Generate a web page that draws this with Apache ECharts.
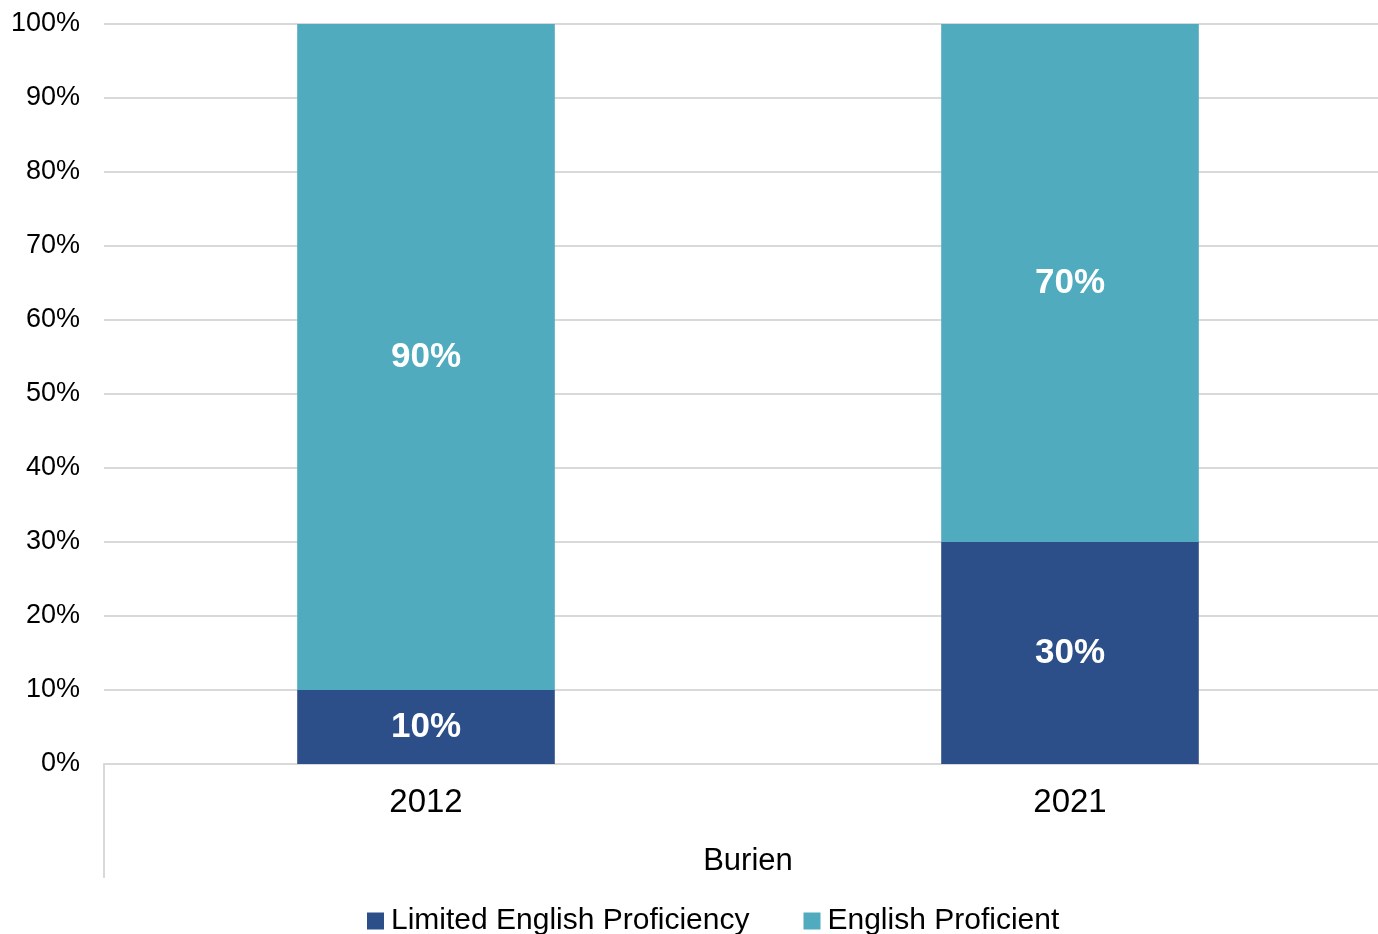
<!DOCTYPE html>
<html>
<head>
<meta charset="utf-8">
<script src="https://cdn.jsdelivr.net/npm/echarts@6/dist/echarts.min.js"></script>
<style>html,body{margin:0;padding:0;background:#fff;overflow:hidden;width:1378px;height:934px;}#c{width:1392px;height:934px;}</style>
</head>
<body>
<div id="c"></div>
<script>
const categories = ['2012', '2021'];
const groupLabel = ['Burien'];
const limitedEnglish = [10, 30];
const englishProficient = [90, 70];
const seriesNames = ['Limited English Proficiency', 'English Proficient'];
const colors = ['#2D4F89', '#4FABBD'];

const chart = echarts.init(document.getElementById('c'));
const labelOpt = {
  show: true, position: 'inside', color: '#fff', fontWeight: 'bold',
  fontSize: 35, fontFamily: 'Liberation Sans, Arial, sans-serif',
  formatter: p => p.value + '%'
};
chart.setOption({
  animation: false,
  color: colors,
  grid: { left: 104, right: 0, top: 24, bottom: 170 },
  legend: {
    top: 901, left: 362,
    itemWidth: 17, itemHeight: 17, itemGap: 54,
    icon: 'rect',
    textStyle: { fontSize: 30, color: '#000', fontFamily: 'Liberation Sans Narrow, Arial Narrow, Liberation Sans, sans-serif', padding: [0, 0, 0, 2] },
    data: seriesNames
  },
  xAxis: [{
    type: 'category', data: categories, position: 'bottom',
    axisLine: { show: true, lineStyle: { color: '#d9d9d9', width: 2 } },
    axisTick: { show: false },
    axisLabel: { fontSize: 33, color: '#000', margin: 22, fontFamily: 'Liberation Sans, Arial, sans-serif' }
  }, {
    type: 'category', data: groupLabel, position: 'bottom',
    axisLine: { show: false },
    axisTick: { show: true, length: 114, lineStyle: { color: '#d9d9d9', width: 2 } },
    axisLabel: { fontSize: 31, color: '#000', margin: 82, fontFamily: 'Liberation Sans, Arial, sans-serif' },
    splitLine: { show: false }
  }],
  yAxis: {
    type: 'value', min: 0, max: 100, interval: 10,
    axisLine: { show: false }, axisTick: { show: false },
    splitLine: { lineStyle: { color: '#d9d9d9', width: 2 } },
    axisLabel: { formatter: '{value}%', fontSize: 27, color: '#000', margin: 24, fontFamily: 'Liberation Sans, Arial, sans-serif' }
  },
  series: [{
    name: seriesNames[0], type: 'bar', stack: 'a', barWidth: '40%',
    data: limitedEnglish, label: labelOpt
  }, {
    name: seriesNames[1], type: 'bar', stack: 'a', barWidth: '40%',
    data: englishProficient, label: labelOpt
  }]
});
</script>
</body>
</html>
